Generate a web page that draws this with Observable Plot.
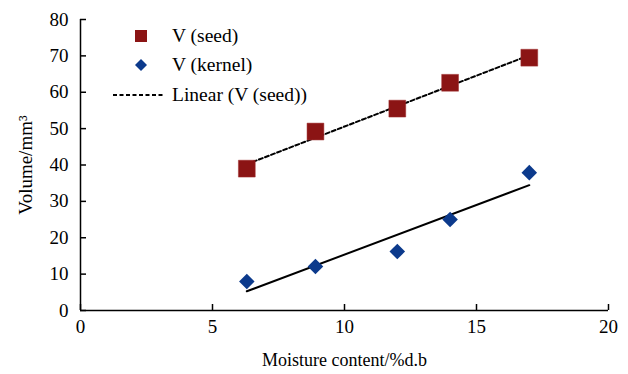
<!DOCTYPE html>
<html><head><meta charset="utf-8">
<script src="https://cdn.jsdelivr.net/npm/d3@7"></script>
<script src="https://cdn.jsdelivr.net/npm/@observablehq/plot@0.6"></script>
<style>
html, body, body *, svg, svg text, svg tspan { font-family: "Liberation Serif", "Times New Roman", serif !important; }
</style>
</head>
<body style="margin:0;background:#fff">
<div id="wrap" style="position:relative;width:628px;height:374px">
<div id="legend" style="position:absolute;left:110px;top:21px;font-size:19.5px;color:#000"></div>
</div>
<script>
const moisture = [6.3, 8.9, 12, 14, 17];
const seedVolume = [39, 49.2, 55.5, 62.6, 69.5];
const kernelVolume = [8, 12.1, 16.2, 25, 37.9];
const xTicks = [0, 5, 10, 15, 20];
const yTicks = [0, 10, 20, 30, 40, 50, 60, 70, 80];
const seedColor = "#8b1414";
const kernelColor = "#0c3a8c";
const FONT = "Liberation Serif";

const seed = moisture.map((x, i) => ({x, y: seedVolume[i]}));
const kernel = moisture.map((x, i) => ({x, y: kernelVolume[i]}));

const squareDiamond = {
  draw(ctx, size) {
    const r = Math.sqrt(size / 2);
    ctx.moveTo(0, -r); ctx.lineTo(r, 0); ctx.lineTo(0, r); ctx.lineTo(-r, 0); ctx.closePath();
  }
};

const chart = Plot.plot({
  width: 628, height: 374,
  marginLeft: 80, marginRight: 20, marginTop: 19, marginBottom: 64,
  style: {fontSize: "19px", color: "#000", background: "#fff", fontFamily: FONT},
  x: {domain: [0, 20], ticks: xTicks, label: null},
  y: {domain: [0, 80], ticks: yTicks, label: null},
  marks: [
    Plot.axisX({ticks: xTicks, tickSize: -6, tickPadding: 15, fontSize: 19, strokeWidth: 1.5, label: null, fontFamily: FONT}),
    Plot.axisY({ticks: yTicks, tickSize: -6, tickPadding: 18, fontSize: 19, strokeWidth: 1.5, label: null, fontFamily: FONT}),
    Plot.ruleX([0], {stroke: "#000", strokeWidth: 1.5}),
    Plot.ruleY([0], {stroke: "#000", strokeWidth: 1.5}),
    Plot.linearRegressionY(seed, {x: "x", y: "y", ci: 0, stroke: "#000", strokeWidth: 2, strokeDasharray: "4,2.5"}),
    Plot.linearRegressionY(kernel, {x: "x", y: "y", ci: 0, stroke: "#000", strokeWidth: 2}),
    Plot.dot(seed, {x: "x", y: "y", symbol: "square", r: 9.5, fill: seedColor, stroke: "#a03030", strokeWidth: 0.5}),
    Plot.dot(kernel, {x: "x", y: "y", symbol: squareDiamond, r: 6.2, fill: kernelColor}),
    Plot.text(["Moisture content/%d.b"], {frameAnchor: "bottom", dy: 55, fontSize: 18, fontFamily: FONT}),
    Plot.text(["Volume/mm³"], {frameAnchor: "left", textAnchor: "middle", dx: -55, rotate: -90, fontSize: 19, fontFamily: FONT})
  ]
});
document.getElementById("wrap").prepend(chart);

const legendItems = [
  {label: "V (seed)", svg: `<rect x="25" y="4" width="12" height="12" fill="${seedColor}"/>`},
  {label: "V (kernel)", svg: `<path d="M31,4 L37,10 L31,16 L25,10Z" fill="${kernelColor}"/>`},
  {label: "Linear (V (seed))", svg: `<line x1="3" x2="55" y1="10" y2="10" stroke="#000" stroke-width="2" stroke-dasharray="4,2.5"/>`}
];
const leg = document.getElementById("legend");
for (const it of legendItems) {
  const d = document.createElement("div");
  d.style.cssText = "display:flex;align-items:center;height:29.5px";
  d.innerHTML = `<svg viewBox="0 0 58 20" width="58" height="20">${it.svg}</svg><span style="margin-left:4px">${it.label}</span>`;
  leg.appendChild(d);
}
</script></body></html>
